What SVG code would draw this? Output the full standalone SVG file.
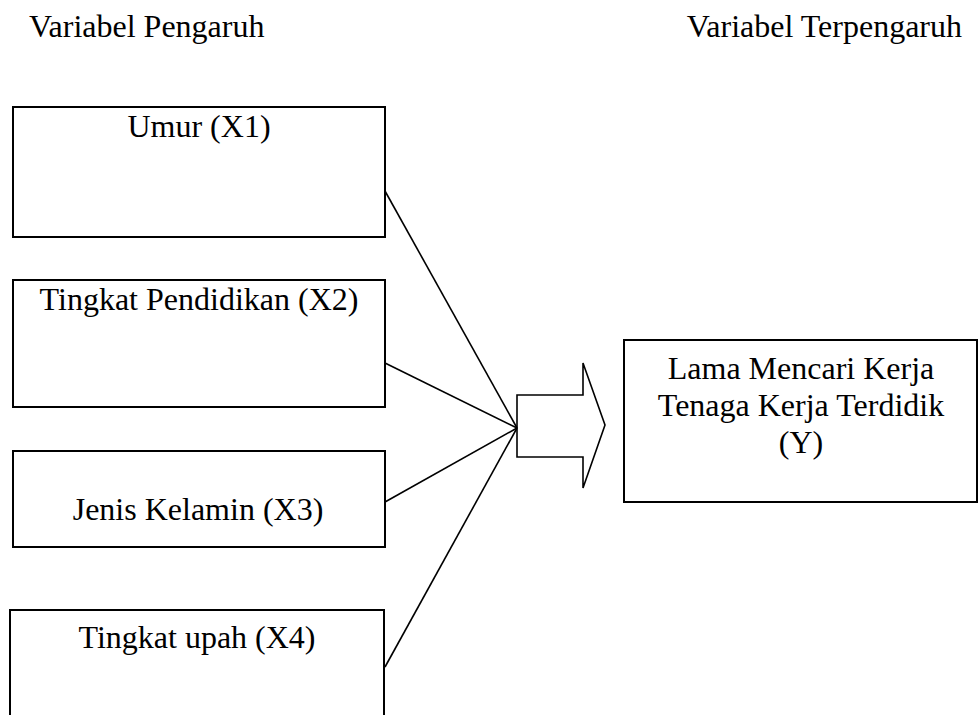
<svg xmlns="http://www.w3.org/2000/svg" width="978" height="715" viewBox="0 0 978 715">
<style>
text{font-family:"Liberation Serif","Times New Roman",serif;font-size:32px;fill:#000}
.c{text-anchor:middle}
.box{fill:#fff;stroke:#000;stroke-width:2}
.conn{fill:none;stroke:#000;stroke-width:1.6}
</style>
<rect width="978" height="715" fill="#fff"/>
<g id="headers">
<text x="29" y="37">Variabel Pengaruh</text>
<text x="962" y="37" text-anchor="end">Variabel Terpengaruh</text>
</g>
<g id="connectors">
<line class="conn" x1="385" y1="191" x2="517" y2="428"/>
<line class="conn" x1="385" y1="363" x2="517" y2="428"/>
<line class="conn" x1="385" y1="502" x2="517" y2="428"/>
<line class="conn" x1="385" y1="667" x2="517" y2="428"/>
<polygon class="conn" points="517,395 583,395 583,363 605,425 583,488 583,457 517,457"/>
</g>
<g id="x1">
<rect class="box" x="13" y="107" width="372" height="130"/>
<text class="c" x="199" y="137">Umur (X1)</text>
</g>
<g id="x2">
<rect class="box" x="13" y="280" width="372" height="127"/>
<text class="c" x="199" y="310">Tingkat Pendidikan (X2)</text>
</g>
<g id="x3">
<rect class="box" x="13" y="451" width="372" height="96"/>
<text class="c" x="198" y="520">Jenis Kelamin (X3)</text>
</g>
<g id="x4">
<rect class="box" x="10" y="610" width="374" height="130" stroke-width="1.5"/>
<text class="c" x="197" y="648">Tingkat upah (X4)</text>
</g>
<g id="y">
<rect class="box" x="624" y="340" width="353" height="162" stroke-width="1.4"/>
<text class="c" x="801" y="379">Lama Mencari Kerja</text>
<text class="c" x="801" y="416">Tenaga Kerja Terdidik</text>
<text class="c" x="801" y="453">(Y)</text>
</g>
</svg>
